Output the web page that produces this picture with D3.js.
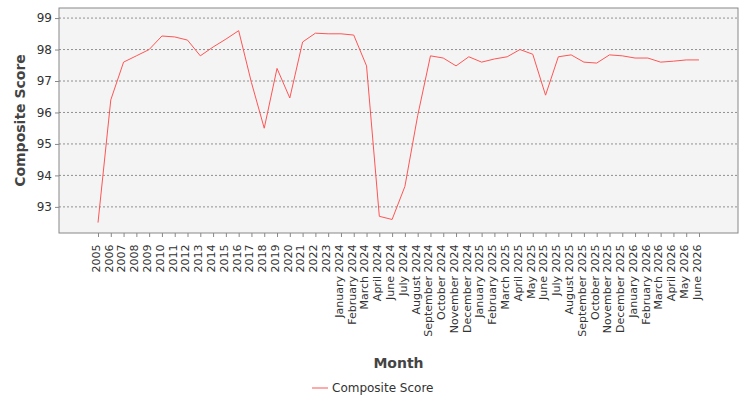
<!DOCTYPE html>
<html>
<head>
<meta charset="utf-8">
<script src="https://cdn.jsdelivr.net/npm/d3@7"></script>
<style>
body { margin: 0; background: #fff; font-family: "DejaVu Sans", sans-serif; }
</style>
</head>
<body>
<div class="graf"></div>
<script>
// categories (month labels) and series values
const months = ['2005','2006','2007','2008','2009','2010','2011','2012','2013','2014','2015','2016','2017','2018','2019','2020','2021','2022','2023',
  'January 2024','February 2024','March 2024','April 2024','June 2024','July 2024','August 2024','September 2024','October 2024','November 2024','December 2024',
  'January 2025','February 2025','March 2025','April 2025','May 2025','June 2025','July 2025','August 2025','September 2025','October 2025','November 2025','December 2025',
  'January 2026','February 2026','March 2026','April 2026','May 2026','June 2026'];
const scores = [92.5,96.4,97.6,97.8,98.0,98.43,98.4,98.3,97.8,98.08,98.33,98.6,96.95,95.5,97.4,96.46,98.24,98.52,98.5,
  98.5,98.46,97.48,92.7,92.6,93.65,95.9,97.8,97.73,97.48,97.77,
  97.6,97.7,97.77,98.0,97.85,96.55,97.77,97.83,97.6,97.57,97.83,97.8,
  97.73,97.73,97.6,97.63,97.67,97.67];
const yTicks = [93,94,95,96,97,98,99];

function main(){
    let width = 750, height = 400;
    const m = {left: 59, right: 12, top: 8, bottom: 167};

    let svg = d3.select('.graf').append('svg')
        .attr('width', width).attr('height', height);

    let x = d3.scalePoint().domain(months).range([m.left, width - m.right]).padding(3.05);
    let y = d3.scaleLinear().domain([92.17, 99.32]).range([height - m.bottom, m.top]);

    // plot background
    svg.append('rect')
        .attr('x', m.left).attr('y', m.top)
        .attr('width', width - m.right - m.left).attr('height', height - m.bottom - m.top)
        .attr('fill', '#f4f4f4').attr('stroke', '#888');

    // grid
    svg.append('g').selectAll('line').data(yTicks).join('line')
        .attr('x1', m.left).attr('x2', width - m.right)
        .attr('y1', d => y(d)).attr('y2', d => y(d))
        .attr('stroke', '#777').attr('stroke-width', 0.8).attr('stroke-dasharray', '2,2');

    // y axis
    let ya = svg.append('g').attr('transform', `translate(${m.left},0)`)
        .call(d3.axisLeft(y).tickValues(yTicks).tickSize(4).tickFormat(d3.format('d')));
    ya.select('.domain').remove();
    ya.selectAll('line').attr('stroke', '#888');
    ya.selectAll('text').attr('font-size', 12).attr('fill', '#333').attr('font-family', '"DejaVu Sans"');

    // x axis
    let xa = svg.append('g').attr('transform', `translate(0,${height - m.bottom})`)
        .call(d3.axisBottom(x).tickSize(4));
    xa.select('.domain').remove();
    xa.selectAll('line').attr('stroke', '#888');
    xa.selectAll('text')
        .attr('font-size', 11).attr('fill', '#333').attr('font-family', '"DejaVu Sans"')
        .attr('transform', 'rotate(-90)')
        .attr('text-anchor', 'end')
        .attr('dx', '-0.5em').attr('dy', '-0.15em')
        .attr('x', 0).attr('y', 0)
        .attr('dominant-baseline', 'middle');
    xa.selectAll('.tick text').attr('transform', 'translate(0,6) rotate(-90)');

    // line
    svg.append('path').datum(scores)
        .attr('fill', 'none').attr('stroke', '#ff5555').attr('stroke-width', 1)
        .attr('d', d3.line().x((d, i) => x(months[i])).y(d => y(d)));

    // titles
    svg.append('text').attr('x', (m.left + width - m.right) / 2).attr('y', 368)
        .attr('text-anchor', 'middle').attr('font-size', 14).attr('font-weight', 'bold')
        .attr('fill', '#444').text('Month');
    svg.append('text').attr('transform', `translate(25,${(m.top + height - m.bottom) / 2}) rotate(-90)`)
        .attr('text-anchor', 'middle').attr('font-size', 14).attr('font-weight', 'bold')
        .attr('fill', '#444').text('Composite Score');

    // legend
    let lg = svg.append('g').attr('transform', 'translate(312,388)');
    lg.append('line').attr('x1', 0).attr('x2', 16).attr('stroke', '#ff5555');
    lg.append('text').attr('x', 20).attr('dy', '0.35em').attr('font-size', 12)
        .attr('fill', '#333').text('Composite Score');
}

main();
</script>
</body>
</html>
